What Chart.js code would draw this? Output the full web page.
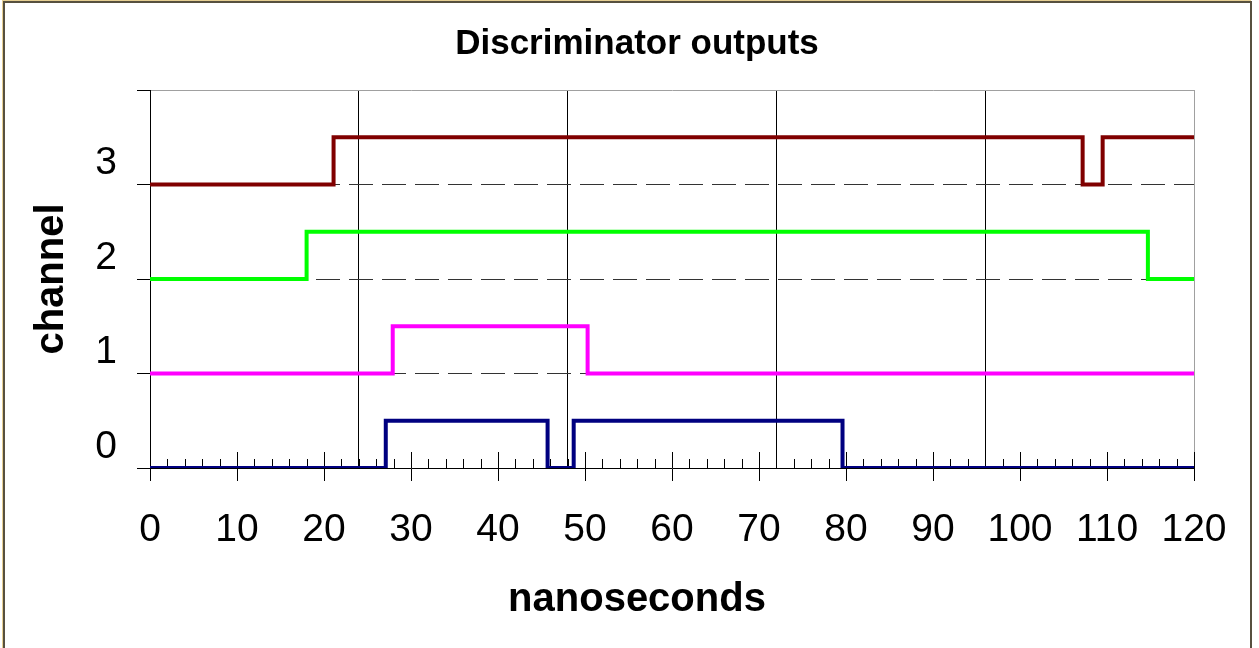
<!DOCTYPE html>
<html>
<head>
<meta charset="utf-8">
<script src="https://cdn.jsdelivr.net/npm/chart.js@4.4.1/dist/chart.umd.min.js"></script>
<style>
  html, body { margin: 0; padding: 0; background: #fff; }
  #wrap { position: relative; width: 1259px; height: 648px; overflow: hidden; }
  #plot { position: absolute; left: 0; top: 0; }
  #frame { position: absolute; left: 3px; top: 1px; width: 1245px; height: 700px;
           border: 2px solid #57503f; box-shadow: -1px -1px 0 #e6cf93; pointer-events: none; }
</style>
</head>
<body>
<div id="wrap">
  <canvas id="plot" width="1259" height="648"></canvas>
  <div id="frame"></div>
</div>
<script>
const FONT = 'Arial, "Liberation Sans", sans-serif';

// time axis (ns)
const xTickLabels = [0, 10, 20, 30, 40, 50, 60, 70, 80, 90, 100, 110, 120];
const xGridTimes = [24, 48, 72, 96];
const yTickLabels = ['0', '1', '2', '3'];

// each channel: times where the level changes, and the level from that time on
const ch3Times  = [0, 21.1, 107.2, 109.5, 120];
const ch3Levels = [3, 3.5, 3, 3.5, 3.5];

const ch2Times  = [0, 18.0, 114.7, 120];
const ch2Levels = [2, 2.5, 2, 2];

const ch1Times  = [0, 27.9, 50.3, 120];
const ch1Levels = [1, 1.5, 1, 1];

const ch0Times  = [0, 27.1, 45.7, 48.7, 79.6, 120];
const ch0Levels = [0, 0.5, 0, 0.5, 0, 0];

function series(times, levels, color) {
    return {
        data: times.map((t, i) => ({ x: t, y: levels[i] })),
        borderColor: color,
        borderWidth: 4,
        pointRadius: 0,
        fill: false,
        stepped: true,
        tension: 0
    };
}

// small tick marks standing up from the time axis
const innerTicks = {
    id: 'innerTicks',
    beforeDatasetsDraw(chart) {
        const xs = chart.scales.x;
        const ctx = chart.ctx;
        const base = chart.chartArea.bottom;
        ctx.save();
        ctx.strokeStyle = '#000';
        ctx.lineWidth = 1;
        xs.ticks.forEach(t => {
            const px = Math.round(xs.getPixelForValue(t.value)) + 0.5;
            const len = t.value % 10 === 0 ? 16 : 9;
            ctx.beginPath();
            ctx.moveTo(px, base);
            ctx.lineTo(px, base - len);
            ctx.stroke();
        });
        ctx.restore();
    }
};

const chart = new Chart(document.getElementById('plot'), {
    type: 'line',
    data: {
        datasets: [
            series(ch3Times, ch3Levels, '#800000'),
            series(ch2Times, ch2Levels, '#00ff00'),
            series(ch1Times, ch1Levels, '#ff00ff'),
            series(ch0Times, ch0Levels, '#000080')
        ]
    },
    options: {
        responsive: false,
        devicePixelRatio: 1,
        animation: false,
        events: [],
        layout: { padding: { left: 15, right: 0, top: 0, bottom: 0 } },
        plugins: {
            legend: { display: false },
            tooltip: { enabled: false },
            title: {
                display: true,
                text: 'Discriminator outputs',
                color: '#000',
                font: { family: FONT, size: 35, weight: 'bold', lineHeight: 1 },
                padding: { top: 27, bottom: 28 }
            },
            subtitle: {
                display: true,
                position: 'bottom',
                text: 'nanoseconds',
                color: '#000',
                font: { family: FONT, size: 40, weight: 'bold', lineHeight: 1 },
                padding: { top: 30, bottom: 28 }
            }
        },
        scales: {
            x: {
                type: 'linear',
                position: 'bottom',
                min: 0,
                max: 120,
                afterFit: s => { s.height = 82; },
                ticks: {
                    stepSize: 2,
                    autoSkip: false,
                    maxRotation: 0,
                    minRotation: 0,
                    padding: 30,
                    color: '#000',
                    font: { family: FONT, size: 39, lineHeight: 1 },
                    callback: v => xTickLabels.includes(v) ? String(v) : ''
                },
                grid: {
                    lineWidth: 1,
                    tickLength: 13,
                    color: c => {
                        if (!c.tick) return 'transparent';
                        if (c.tick.value === 120) return '#a0a0a0';
                        return xGridTimes.includes(c.tick.value) ? '#000' : 'transparent';
                    },
                    tickColor: c => (c.tick && c.tick.value % 10 === 0) ? '#000' : 'transparent'
                },
                border: { display: true, color: '#000', width: 1 }
            },
            y: {
                type: 'linear',
                position: 'left',
                min: 0,
                max: 4,
                afterFit: s => { s.width = 135; },
                ticks: {
                    stepSize: 1,
                    padding: 20,
                    labelOffset: -21,
                    color: '#000',
                    font: { family: FONT, size: 39, lineHeight: 1 },
                    callback: v => yTickLabels[v] !== undefined ? yTickLabels[v] : ''
                },
                grid: {
                    lineWidth: 1,
                    tickLength: 13,
                    tickColor: '#000',
                    color: c => {
                        if (!c.tick) return 'transparent';
                        const v = c.tick.value;
                        if (v === 4) return '#a0a0a0';
                        return (v > 0 && v < 4) ? '#333' : 'transparent';
                    }
                },
                border: {
                    display: true,
                    color: '#000',
                    width: 1,
                    dash: c => (c.tick && c.tick.value > 0 && c.tick.value < 4) ? [24, 9] : []
                },
                title: {
                    display: true,
                    text: 'channel',
                    color: '#000',
                    font: { family: FONT, size: 40, weight: 'bold', lineHeight: 1 },
                    padding: { top: 17, bottom: 0 }
                }
            },
            y2: {
                type: 'linear',
                position: 'right',
                min: 0,
                max: 4,
                afterFit: s => { s.width = 65; },
                ticks: { display: false },
                grid: { display: false },
                border: { display: false }
            }
        }
    },
    plugins: [innerTicks]
});
</script>
</body>
</html>
